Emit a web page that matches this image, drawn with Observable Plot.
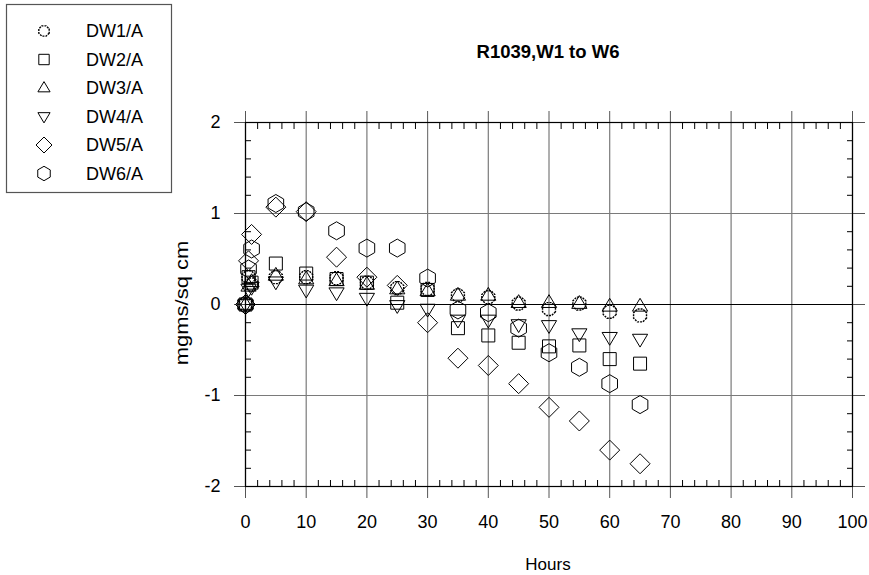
<!DOCTYPE html>
<html><head><meta charset="utf-8">
<script src="https://cdn.jsdelivr.net/npm/d3@7"></script>
<script src="https://cdn.jsdelivr.net/npm/@observablehq/plot@0.6"></script>
<style>
body{margin:0;background:#fff;font-family:"Liberation Sans",Arial,sans-serif;}
#wrap{position:relative;width:869px;height:575px;overflow:hidden;background:#fff}
#wrap svg{position:absolute;left:0;top:0;overflow:visible}
.lbl{position:absolute;white-space:nowrap;color:#000;transform:translate(-50%,-50%)}
#title{font-weight:bold;font-size:18.5px;left:548px;top:52px}
#xlab{font-size:17px;left:548px;top:565px}
#ylab{font-size:22px;left:182px;top:303px;transform:translate(-50%,-50%) rotate(-90deg) scale(1,0.85)}
</style></head><body>
<div id="wrap">
<div class="lbl" id="title">R1039,W1 to W6</div>
<div class="lbl" id="xlab">Hours</div>
<div class="lbl" id="ylab">mgms/sq cm</div>
</div>
<script>
// ---- data ----
const hours = [0, 0.5, 1, 5, 10, 15, 20, 25, 30, 35, 40, 45, 50, 55, 60, 65];
const seriesNames = ["DW1/A", "DW2/A", "DW3/A", "DW4/A", "DW5/A", "DW6/A"];
const dw1 = [0, 0.30, 0.22, 0.30, 0.30, 0.29, 0.24, 0.18, 0.17, 0.10, 0.08, 0.01, -0.05, 0.01, -0.08, -0.12];
const dw2 = [0, 0.30, 0.24, 0.45, 0.34, 0.28, 0.24, 0.02, 0.16, -0.26, -0.34, -0.42, -0.46, -0.45, -0.60, -0.65];
const dw3 = [0, 0.20, 0.25, 0.32, 0.28, 0.26, 0.22, 0.17, 0.15, 0.10, 0.10, 0.02, 0.02, 0.01, -0.02, -0.02];
const dw4 = [0, 0.17, 0.19, 0.25, 0.16, 0.13, 0.07, -0.01, -0.05, -0.17, -0.17, -0.22, -0.23, -0.32, -0.36, -0.38];
const dw5 = [0, 0.48, 0.77, 1.07, 1.02, 0.52, 0.30, 0.21, -0.20, -0.59, -0.67, -0.87, -1.13, -1.28, -1.60, -1.75];
const dw6 = [0, 0.39, 0.61, 1.11, 1.02, 0.81, 0.62, 0.62, 0.29, -0.06, -0.09, -0.26, -0.53, -0.69, -0.87, -1.10];
const seriesValues = [dw1, dw2, dw3, dw4, dw5, dw6];
const xTicks = [0, 10, 20, 30, 40, 50, 60, 70, 80, 90, 100];
const yTicks = [-2, -1, 0, 1, 2];
const xMinor = d3.range(0, 101, 2).filter(d => d % 10 !== 0);
const yMinor = d3.range(-10, 11).map(i => i / 5).filter(d => !Number.isInteger(d));

// ---- symbols ----
function poly(ctx, pts) { ctx.moveTo(pts[0][0], pts[0][1]); for (let i = 1; i < pts.length; i++) ctx.lineTo(pts[i][0], pts[i][1]); ctx.closePath(); }
const R = s => Math.sqrt(s / Math.PI);
const symOct = {draw(ctx, s) { const r = R(s); poly(ctx, d3.range(8).map(k => { const a = Math.PI / 8 + k * Math.PI / 4; return [r * Math.cos(a), r * Math.sin(a)]; })); }};
const symSquare = {draw(ctx, s) { const r = R(s); poly(ctx, [[-r, -r], [r, -r], [r, r], [-r, r]]); }};
const symTriUp = {draw(ctx, s) { const r = R(s); poly(ctx, [[0, -r], [r * 0.95, r * 0.6], [-r * 0.95, r * 0.6]]); }};
const symTriDown = {draw(ctx, s) { const r = R(s); poly(ctx, [[0, r], [r * 0.95, -r * 0.6], [-r * 0.95, -r * 0.6]]); }};
const symDiamond = {draw(ctx, s) { const r = R(s); poly(ctx, [[0, -r], [r, 0], [0, r], [-r, 0]]); }};
const symHex = {draw(ctx, s) { const r = R(s); poly(ctx, d3.range(6).map(k => { const a = -Math.PI / 2 + k * Math.PI / 3; return [r * Math.cos(a), r * Math.sin(a)]; })); }};
const symbols = [symOct, symSquare, symTriUp, symTriDown, symDiamond, symHex];
const radii = [7, 6.5, 8, 8, 10, 9];
const dashes = ["2,1", null, null, null, null, null];

const data = seriesNames.map((name, si) => hours.map((h, i) => ({h, v: seriesValues[si][i], name})));

const fs = 18;
const plot = Plot.plot({
  width: 869, height: 575,
  marginLeft: 245, marginRight: 17, marginTop: 122, marginBottom: 89,
  style: {fontFamily: '"Liberation Sans", Arial, sans-serif', background: "transparent"},
  x: {domain: [0, 100], axis: null},
  y: {domain: [-2, 2], axis: null},
  marks: [
    Plot.ruleX(xTicks, {stroke: "#7a7a7a", strokeWidth: 1.2}),
    Plot.ruleY(yTicks.filter(d => d !== 0), {stroke: "#7a7a7a", strokeWidth: 1.2}),
    Plot.ruleY([0], {stroke: "#000", strokeWidth: 1.2}),
    Plot.axisX(xTicks, {anchor: "bottom", tickSize: 12, tickPadding: 17, stroke: "#555", fill: "#000", fontSize: fs, tickFormat: d => String(d), label: null}),
    Plot.axisX(xTicks, {anchor: "top", tickSize: 12, stroke: "#555", tickFormat: () => "", label: null}),
    Plot.axisY(yTicks, {anchor: "left", tickSize: 11, tickPadding: 14, stroke: "#555", fill: "#000", fontSize: fs, tickFormat: d => String(d), label: null}),
    Plot.axisY(yTicks, {anchor: "right", tickSize: 12, stroke: "#555", tickFormat: () => "", label: null}),
    Plot.axisX(xMinor, {anchor: "bottom", tickSize: 6, dy: -6, stroke: "#000", tickFormat: () => "", label: null}),
    Plot.axisX(xMinor, {anchor: "top", tickSize: 6, dy: 6, stroke: "#000", tickFormat: () => "", label: null}),
    Plot.axisY(yMinor, {anchor: "left", tickSize: 6, dx: 6, stroke: "#000", tickFormat: () => "", label: null}),
    Plot.axisY(yMinor, {anchor: "right", tickSize: 6, dx: -6, stroke: "#000", tickFormat: () => "", label: null}),
    Plot.frame({stroke: "#000", strokeWidth: 1.2}),
    ...data.map((d, si) => Plot.dot(d, {x: "h", y: "v", symbol: symbols[si], r: radii[si], stroke: "#000", fill: "none", strokeWidth: si === 0 ? 1.4 : 1, strokeDasharray: dashes[si]}))
  ]
});
const wrap = document.getElementById("wrap");
wrap.insertBefore(plot, wrap.firstChild);

// ---- legend ----
const leg = d3.select(wrap).append("svg").attr("width", 180).attr("height", 200).style("left", "0px").style("top", "0px");
leg.append("rect").attr("x", 6.5).attr("y", 4.5).attr("width", 165).attr("height", 188).attr("fill", "#fff").attr("stroke", "#555").attr("stroke-width", 1.2);
seriesNames.forEach((name, i) => {
  const y = 31 + i * 28.5;
  const p = d3.path();
  symbols[i].draw(p, Math.PI * (radii[i] * 0.8) ** 2);
  leg.append("path").attr("d", p.toString()).attr("transform", `translate(44,${y})`).attr("fill", "none").attr("stroke", "#000").attr("stroke-width", i === 0 ? 1.4 : 1).attr("stroke-dasharray", dashes[i]);
  leg.append("text").attr("x", 86).attr("y", y).attr("dy", "0.35em").attr("font-size", 18).attr("font-family", '"Liberation Sans", Arial, sans-serif').text(name);
});
</script>
</body></html>
